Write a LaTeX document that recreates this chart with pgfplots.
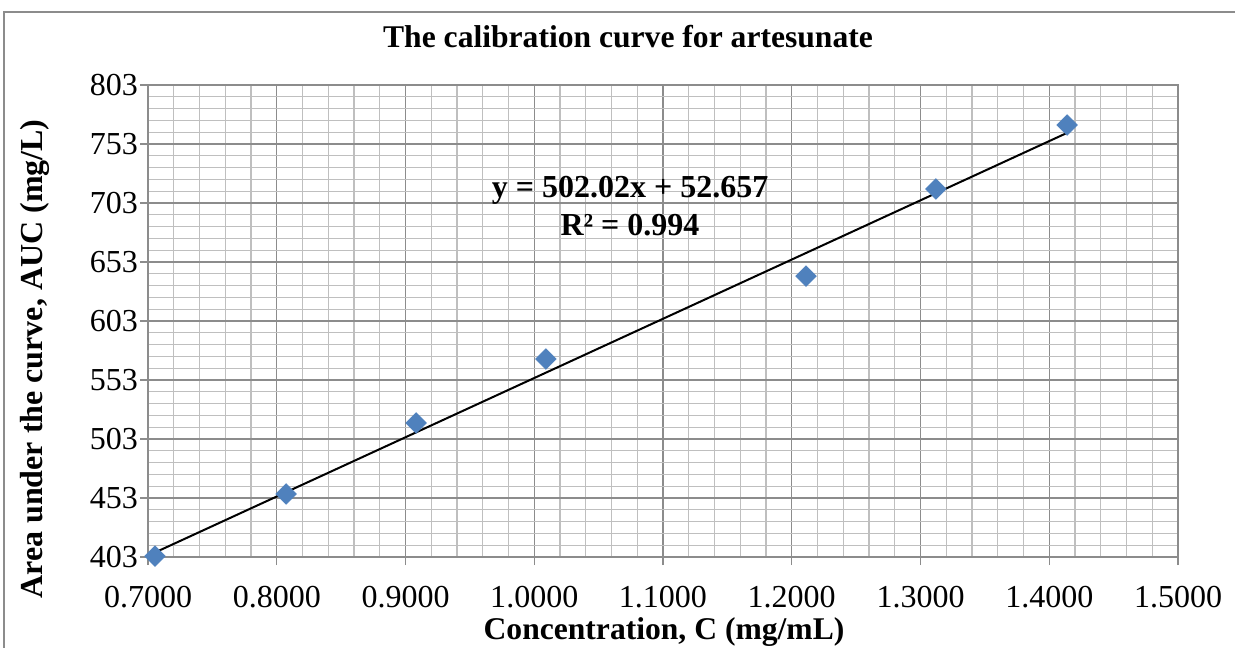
\documentclass[border=0pt]{standalone}
\usepackage{fontspec}
\setmainfont{Liberation Serif}
\usepackage{pgfplots}
\pgfplotsset{compat=1.18}
\definecolor{xlblue}{HTML}{4F81BD}
\definecolor{majgrid}{HTML}{8C8C8C}
\definecolor{mingrid}{HTML}{BFBFBF}

\begin{document}
\begin{tikzpicture}[x=0.5pt,y=-0.5pt]
% page = 1235 x 647 px, 1 px = 0.5 pt
\path[use as bounding box] (0,0) rectangle (1235,647);
\draw[majgrid, line width=0.8pt] (4,12) rectangle (1250,660);
\node[font=\fontsize{15.8}{18}\selectfont\bfseries] at (628,37) {The calibration curve for artesunate};
\node[font=\fontsize{16}{18}\selectfont\bfseries, rotate=90] at (35,359) {Area under the curve, AUC (mg/L)};
\node[font=\fontsize{15.8}{18}\selectfont\bfseries] at (664,632) {Concentration, C (mg/mL)};
\begin{axis}[
    at={(74pt,-278.5pt)}, anchor=south west,
    scale only axis, width=515pt, height=236pt,
    xmin=0.7, xmax=1.5, ymin=403, ymax=803,
    xtick={0.7,0.8,...,1.5}, ytick={403,453,...,803},
    minor x tick num=4, minor y tick num=4,
    grid=both,
    major grid style={majgrid, line width=0.6pt},
    minor grid style={mingrid, line width=0.6pt},
    axis line style={majgrid, line width=0.6pt},
    tick style={majgrid, line width=0.6pt},
    major tick length=4pt, minor tick length=0pt,
    tick align=outside, xtick pos=bottom, ytick pos=left,
    ticklabel style={font=\fontsize{16}{19}\selectfont},
    /pgf/number format/assume math mode=true,
    xticklabel style={yshift=-7pt, /pgf/number format/.cd, fixed, fixed zerofill, precision=4},
    yticklabel style={xshift=2.5pt, /pgf/number format/.cd, fixed, precision=0, 1000 sep={}},
    clip=false,
]
% linear trendline (y = 502.02x + 52.657)
\addplot[black, line width=1pt] coordinates {(0.7054,406.8)(1.4138,762.4)};
\addplot[only marks, mark=square*, mark size=3.6pt,
         mark options={rotate=45, fill=xlblue, draw=xlblue}] coordinates {
  (0.7054,403.8)(0.8072,456.4)(0.9082,516.6)(1.0091,570.8)
  (1.2111,641.1)(1.3120,714.9)(1.4138,769.1)};
\node[font=\fontsize{16}{19}\selectfont\bfseries, align=center]
  at (axis cs:1.0744,700.5) {y = 502.02x + 52.657\\R² = 0.994};
\end{axis}
\end{tikzpicture}
\end{document}
